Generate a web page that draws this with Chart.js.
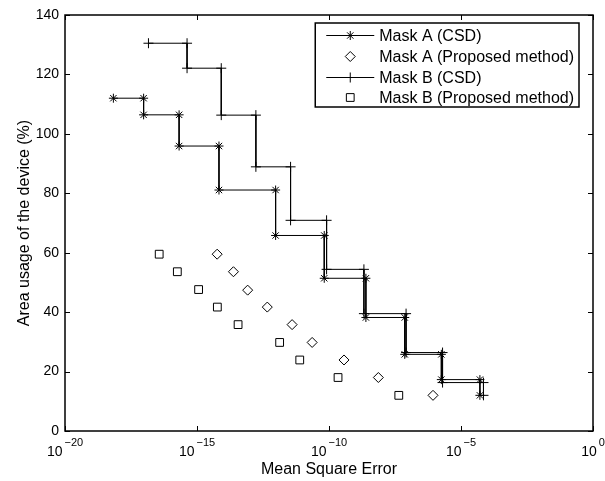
<!DOCTYPE html>
<html>
<head>
<meta charset="utf-8">
<script src="https://cdn.jsdelivr.net/npm/chart.js"></script>
<style>
  html, body { margin: 0; padding: 0; background: #fff; }
  canvas { display: block; }
</style>
</head>
<body>
<canvas id="chart" width="605" height="481"></canvas>
<script>
// values (x = mean square error, y = area usage in %)
const maskACsdX = [6.8e-19, 9.5e-18, 9.5e-18, 2.1e-16, 2.1e-16, 6.8e-15, 6.8e-15, 9.5e-13, 9.5e-13,
                   6.6e-11, 6.6e-11, 2.5e-9, 2.5e-9, 7.4e-8, 7.4e-8, 1.8e-6, 1.8e-6, 5.2e-5, 5.2e-5];
const maskACsdY = [112, 112, 106.4, 106.4, 95.9, 95.9, 81.1, 81.1, 65.8,
                   65.8, 51.4, 51.4, 38.2, 38.2, 25.8, 25.8, 17.3, 17.3, 12];

const maskBCsdX = [1.45e-17, 4.2e-16, 4.2e-16, 8.3e-15, 8.3e-15, 1.7e-13, 1.7e-13, 3.5e-12, 3.5e-12,
                   8.1e-11, 8.1e-11, 2.1e-9, 2.1e-9, 8.3e-8, 8.3e-8, 2.0e-6, 2.0e-6, 7.1e-5, 7.1e-5];
const maskBCsdY = [130.5, 130.5, 122.1, 122.1, 106.3, 106.3, 88.9, 88.9, 70.9,
                   70.9, 54.4, 54.4, 39.5, 39.5, 26.4, 26.4, 16.3, 16.3, 12];

const maskAPropX = [5.8e-15, 2.4e-14, 8.3e-14, 4.6e-13, 4.0e-12, 2.3e-11, 3.7e-10, 7.4e-9, 8.7e-7];
const maskAPropY = [59.5, 53.6, 47.4, 41.7, 35.8, 29.8, 23.9, 18.0, 12.0];

const maskBPropX = [3.7e-17, 1.8e-16, 1.15e-15, 5.9e-15, 3.6e-14, 1.35e-12, 7.8e-12, 2.2e-10, 4.4e-8];
const maskBPropY = [59.5, 53.6, 47.6, 41.7, 35.8, 29.8, 23.9, 18.0, 12.0];

const xTickValues = [1e-20, 1e-15, 1e-10, 1e-5, 1];
const yTickStep = 20;

const FONT = '"Liberation Sans", Arial, Helvetica, sans-serif';

function toPoints(xs, ys) {
    return xs.map((x, i) => ({ x: x, y: ys[i] }));
}

// MATLAB style box with inward ticks and 10^n tick labels
const framePlugin = {
    id: 'frame',
    afterDraw(chart) {
        const { ctx, chartArea: a, scales: { x, y } } = chart;
        ctx.save();
        ctx.strokeStyle = '#000';
        ctx.lineWidth = 1;
        ctx.beginPath();
        for (const t of x.ticks) {
            const px = Math.round(x.getPixelForValue(t.value)) + 0.5;
            ctx.moveTo(px, a.bottom); ctx.lineTo(px, a.bottom - 5);
            ctx.moveTo(px, a.top); ctx.lineTo(px, a.top + 5);
        }
        for (const t of y.ticks) {
            const py = Math.round(y.getPixelForValue(t.value)) + 0.5;
            ctx.moveTo(a.left, py); ctx.lineTo(a.left + 5, py);
            ctx.moveTo(a.right, py); ctx.lineTo(a.right - 5, py);
        }
        ctx.stroke();
        ctx.lineWidth = 1.5;
        ctx.strokeRect(a.left, a.top, a.right - a.left, a.bottom - a.top);

        // x tick labels: "10" plus a raised exponent
        ctx.fillStyle = '#000';
        ctx.textBaseline = 'alphabetic';
        ctx.textAlign = 'left';
        for (const t of x.ticks) {
            const px = x.getPixelForValue(t.value);
            const e = Math.round(Math.log10(t.value));
            const exp = e < 0 ? '\u2212' + (-e) : String(e);
            ctx.font = '14px ' + FONT;
            const wBase = ctx.measureText('10').width;
            ctx.font = '11px ' + FONT;
            const wExp = ctx.measureText(exp).width;
            const start = px - (wBase + 2 + wExp) / 2;
            ctx.font = '14px ' + FONT;
            ctx.fillText('10', start, a.bottom + 25);
            ctx.font = '11px ' + FONT;
            ctx.fillText(exp, start + wBase + 2, a.bottom + 15);
        }
        ctx.restore();
    }
};

// boxed legend with line samples and markers
const legendPlugin = {
    id: 'boxLegend',
    afterDraw(chart) {
        const { ctx, chartArea: a } = chart;
        const items = chart.data.datasets;
        ctx.save();
        ctx.font = '16px ' + FONT;
        const textW = Math.max(...items.map(d => ctx.measureText(d.label).width));
        const w = 64 + textW + 5;
        const h = 84;
        const left = a.right - 14 - w;
        const top = a.top + 8;
        ctx.fillStyle = '#fff';
        ctx.fillRect(left, top, w, h);
        ctx.strokeStyle = '#000';
        ctx.lineWidth = 1.5;
        ctx.strokeRect(left, top, w, h);
        items.forEach((d, i) => {
            const cy = Math.round(top + 12 + i * 20.8) + 0.5;
            ctx.lineWidth = 1;
            ctx.strokeStyle = '#000';
            if (d.showLine) {
                ctx.beginPath();
                ctx.moveTo(left + 11, cy);
                ctx.lineTo(left + 59, cy);
                ctx.stroke();
            }
            ctx.fillStyle = d.pointBackgroundColor;
            Chart.helpers.drawPoint(ctx, {
                pointStyle: d.pointStyle, radius: d.pointRadius, rotation: 0, borderWidth: 1
            }, left + 35, cy);
            ctx.fillStyle = '#000';
            ctx.textBaseline = 'middle';
            ctx.textAlign = 'left';
            ctx.fillText(d.label, left + 64, cy + 1);
        });
        ctx.restore();
    }
};

new Chart(document.getElementById('chart'), {
    type: 'scatter',
    data: {
        datasets: [
            {
                label: 'Mask A (CSD)',
                data: toPoints(maskACsdX, maskACsdY),
                showLine: true,
                borderColor: '#000',
                borderWidth: 1,
                pointStyle: 'star',
                pointRadius: 4.5,
                pointBorderWidth: 1,
                pointBorderColor: '#000',
                pointBackgroundColor: '#000'
            },
            {
                label: 'Mask A (Proposed method)',
                data: toPoints(maskAPropX, maskAPropY),
                showLine: false,
                borderColor: '#000',
                pointStyle: 'rectRot',
                pointRadius: 5,
                pointBorderWidth: 1,
                pointBorderColor: '#000',
                pointBackgroundColor: '#fff'
            },
            {
                label: 'Mask B (CSD)',
                data: toPoints(maskBCsdX, maskBCsdY),
                showLine: true,
                borderColor: '#000',
                borderWidth: 1,
                pointStyle: 'cross',
                pointRadius: 5,
                pointBorderWidth: 1,
                pointBorderColor: '#000',
                pointBackgroundColor: '#000'
            },
            {
                label: 'Mask B (Proposed method)',
                data: toPoints(maskBPropX, maskBPropY),
                showLine: false,
                borderColor: '#000',
                pointStyle: 'rect',
                pointRadius: 5.5,
                pointBorderWidth: 1,
                pointBorderColor: '#000',
                pointBackgroundColor: '#fff'
            }
        ]
    },
    options: {
        responsive: false,
        animation: false,
        layout: { padding: { top: 15, right: 12, left: 0, bottom: 0 } },
        plugins: {
            legend: { display: false },
            tooltip: { enabled: false }
        },
        scales: {
            x: {
                type: 'logarithmic',
                min: 1e-20,
                max: 1,
                afterBuildTicks: scale => { scale.ticks = xTickValues.map(v => ({ value: v })); },
                afterFit: scale => { scale.height = 50; },
                ticks: { display: false },
                grid: { display: false, drawTicks: false },
                border: { display: false },
                title: {
                    display: true,
                    text: 'Mean Square Error',
                    color: '#000',
                    font: { size: 16, family: FONT },
                    padding: { top: 0, bottom: 2 }
                }
            },
            y: {
                min: 0,
                max: 140,
                afterFit: scale => { scale.width = 65; },
                ticks: { stepSize: yTickStep, color: '#000', padding: 6, font: { size: 14, family: FONT } },
                grid: { display: false, drawTicks: false },
                border: { display: false },
                title: {
                    display: true,
                    text: 'Area usage of the device (%)',
                    color: '#000',
                    font: { size: 16, family: FONT },
                    padding: { top: 15, bottom: 0 }
                }
            }
        }
    },
    plugins: [framePlugin, legendPlugin]
});
</script>
</body>
</html>
